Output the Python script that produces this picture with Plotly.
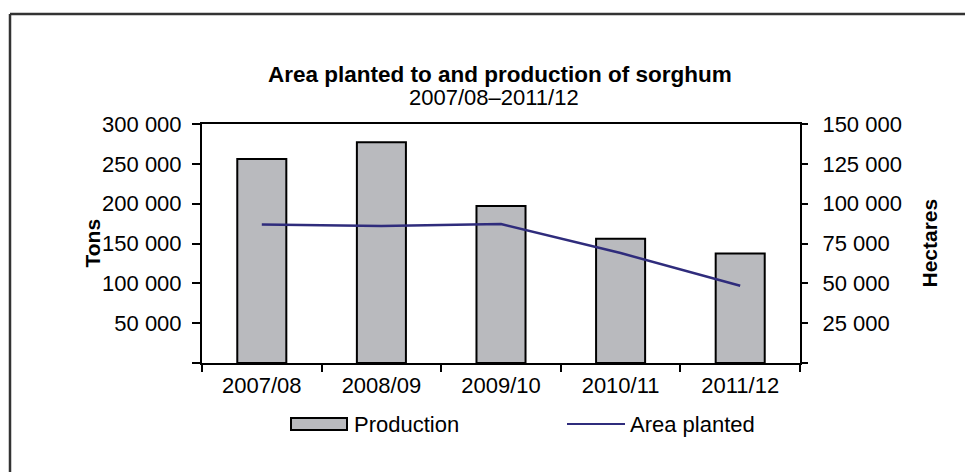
import plotly.graph_objects as go

seasons = ["2007/08", "2008/09", "2009/10", "2010/11", "2011/12"]
production_tons = [256000, 277000, 197000, 156000, 137500]
area_hectares = [87000, 86000, 87200, 69000, 48500]

left_tickvals = [0, 50000, 100000, 150000, 200000, 250000, 300000]
left_ticktext = ["", "50 000", "100 000", "150 000", "200 000", "250 000", "300 000"]
right_tickvals = [0, 25000, 50000, 75000, 100000, 125000, 150000]
right_ticktext = ["", "25 000", "50 000", "75 000", "100 000", "125 000", "150 000"]

W, H = 973, 472
OFF = 8  # page body margin
L, R, T, B = 202, 800, 124, 363  # plot area in page pixels
FONT = "Liberation Sans, Arial, sans-serif"
FS = 22


def px(x):
    return (x - L) / (R - L)


def py(y):
    return (B - y) / (B - T)


fig = go.Figure()
fig.add_trace(go.Bar(
    x=seasons, y=production_tons, name="Production",
    marker=dict(color="#B9BABE", line=dict(color="black", width=2)),
    yaxis="y", showlegend=False,
))
fig.add_trace(go.Scatter(
    x=seasons, y=area_hectares, name="Area planted", mode="lines",
    line=dict(color="#2F2C7C", width=2.5),
    yaxis="y2", showlegend=False,
))

annotations = [
    dict(text="<b>Area planted to and production of sorghum</b>", x=px(500), y=py(74),
         xref="paper", yref="paper", showarrow=False, xanchor="center", yanchor="middle",
         font=dict(size=FS + 0.5, color="black")),
    dict(text="2007/08–2011/12", x=px(494), y=py(97),
         xref="paper", yref="paper", showarrow=False, xanchor="center", yanchor="middle",
         font=dict(size=FS, color="black")),
    dict(text="<b>Tons</b>", x=px(92), y=0.5, textangle=-90,
         xref="paper", yref="paper", showarrow=False, xanchor="center", yanchor="middle",
         font=dict(size=FS - 1, color="black")),
    dict(text="<b>Hectares</b>", x=px(929), y=0.5, textangle=-90,
         xref="paper", yref="paper", showarrow=False, xanchor="center", yanchor="middle",
         font=dict(size=FS - 1, color="black")),
    dict(text="Production", x=px(352), y=py(424),
         xref="paper", yref="paper", showarrow=False, xanchor="left", yanchor="middle",
         font=dict(size=FS, color="black")),
    dict(text="Area planted", x=px(628), y=py(424),
         xref="paper", yref="paper", showarrow=False, xanchor="left", yanchor="middle",
         font=dict(size=FS, color="black")),
]

shapes = [
    # outer frame (left and top edges)
    dict(type="line", xref="paper", yref="paper", x0=px(10), x1=px(990), y0=py(14), y1=py(14),
         line=dict(color="#333333", width=2.5)),
    dict(type="line", xref="paper", yref="paper", x0=px(10), x1=px(10), y0=py(14), y1=py(490),
         line=dict(color="#333333", width=2.5)),
    # legend swatches
    dict(type="rect", xref="paper", yref="paper", x0=px(291), x1=px(347), y0=py(430), y1=py(418),
         fillcolor="#B9BABE", line=dict(color="black", width=2)),
    dict(type="line", xref="paper", yref="paper", x0=px(567), x1=px(625), y0=py(424), y1=py(424),
         line=dict(color="#2F2C7C", width=2)),
]

fig.update_layout(
    width=W, height=H,
    margin=dict(l=L - OFF, r=W - (R - OFF), t=T - OFF, b=H - (B - OFF), pad=0),
    paper_bgcolor="white", plot_bgcolor="white",
    font=dict(family=FONT, size=FS, color="black"),
    bargap=0.59,
    showlegend=False,
    xaxis=dict(
        type="category", showline=True, linecolor="black", linewidth=2, mirror=True,
        ticks="outside", ticklen=7, tickwidth=2, tickcolor="black",
        tickson="boundaries", showgrid=False, zeroline=False,
        ticklabelstandoff=2,
    ),
    yaxis=dict(
        range=[0, 300000], tickvals=left_tickvals, ticktext=left_ticktext,
        showline=True, linecolor="black", linewidth=2, mirror=True,
        ticks="outside", ticklen=8, tickwidth=2, tickcolor="black",
        showgrid=False, zeroline=False, ticklabelstandoff=6,
    ),
    yaxis2=dict(
        range=[0, 150000], tickvals=right_tickvals, ticktext=right_ticktext,
        overlaying="y", side="right",
        showline=True, linecolor="black", linewidth=2,
        ticks="outside", ticklen=6, tickwidth=2, tickcolor="black",
        showgrid=False, zeroline=False, ticklabelstandoff=10,
    ),
    annotations=annotations,
    shapes=shapes,
)

fig.write_html("out.html")
